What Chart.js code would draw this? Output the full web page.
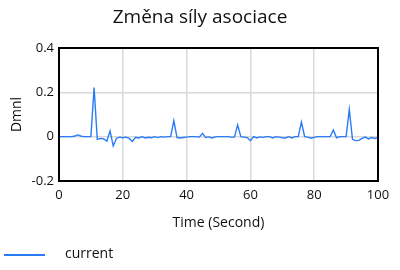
<!DOCTYPE html>
<html lang="cs">
<head>
  <meta charset="UTF-8">
  <title>Změna síly asociace</title>
  <script src="https://cdn.jsdelivr.net/npm/chart.js"></script>
  <style>
    html, body { margin: 0; padding: 0; background: #fff; }
    #wrap { width: 400px; height: 270px; }
  </style>
</head>
<body>
  <div id="wrap"><canvas id="chart" width="400" height="270"></canvas></div>
  <script>
    // data (time step 1 s)
    const times = [];
    for (let t = 0; t <= 100; t++) times.push(t);
    const current = [
      0, 0, 0, 0, 0, 0.003, 0.008, 0.002, 0, 0,
      0, 0.222, -0.012, -0.008, -0.01, -0.02, 0.026, -0.042, -0.008, -0.002,
      -0.005, -0.002, -0.008, -0.022, -0.003, -0.006, 0, -0.006, -0.003, -0.005,
      0, -0.004, 0, -0.002, 0, 0, 0.072, -0.004, -0.006, -0.004,
      -0.002, 0, 0, 0, -0.002, 0.015, -0.004, -0.001, -0.006, -0.001,
      0, 0, 0, 0, -0.002, -0.002, 0.053, 0, -0.002, -0.004,
      -0.018, 0, -0.006, -0.001, -0.003, 0, 0, -0.006, 0, -0.002,
      -0.005, -0.006, 0, -0.006, 0, 0, 0.066, 0, -0.002, -0.007,
      -0.003, 0, 0, 0, 0, 0, 0.03, -0.005, 0, 0,
      0, 0.122, -0.012, -0.018, -0.017, -0.008, -0.002, -0.01, -0.004, -0.008,
      -0.004
    ];
    const xTicks = [0, 20, 40, 60, 80, 100];
    const yTicks = [-0.2, 0, 0.2, 0.4];
    const chartTitle = 'Změna síly asociace';

    const FONT = "'Open Sans', 'Noto Sans', sans-serif";
    const lineColor = '#2a7cf6';

    // title centred on the whole canvas, black frame round the plot area
    const frame = {
      id: 'frame',
      afterDatasetsDraw(chart) {
        const a = chart.chartArea, c = chart.ctx;
        c.save();
        c.strokeStyle = '#000';
        c.lineWidth = 2;
        c.strokeRect(a.left, a.top, a.right - a.left, a.bottom - a.top);
        c.fillStyle = '#111';
        c.font = '19px ' + FONT;
        c.textAlign = 'center';
        c.textBaseline = 'middle';
        c.fillText(chartTitle, chart.width / 2, 18);
        c.restore();
      }
    };

    // legend: line sample and label at the bottom left
    const bottomLegend = {
      id: 'bottomLegend',
      afterDraw(chart) {
        const c = chart.ctx, ds = chart.data.datasets[0];
        c.save();
        c.strokeStyle = ds.borderColor;
        c.lineWidth = 2;
        c.beginPath();
        c.moveTo(4, 255);
        c.lineTo(45, 255);
        c.stroke();
        c.fillStyle = '#111';
        c.font = '14px ' + FONT;
        c.textBaseline = 'middle';
        c.fillText(ds.label, 65, 254);
        c.restore();
      }
    };

    new Chart(document.getElementById('chart'), {
      type: 'line',
      data: {
        datasets: [{
          label: 'current',
          data: times.map((t, i) => ({ x: t, y: current[i] })),
          borderColor: lineColor,
          borderWidth: 1.4,
          pointRadius: 0,
          tension: 0,
          fill: false
        }]
      },
      options: {
        responsive: false,
        animation: false,
        layout: { padding: { top: 48, right: 22, bottom: 35, left: 0 } },
        plugins: {
          legend: { display: false },
          tooltip: { enabled: false },
          title: { display: false }
        },
        scales: {
          x: {
            type: 'linear',
            min: 0, max: 100,
            afterBuildTicks: s => { s.ticks = xTicks.map(v => ({ value: v })); },
            afterFit: s => { s.height = 54; },
            grid: { color: '#d9d9d9', lineWidth: 1.5, drawTicks: false },
            border: { display: false },
            ticks: { color: '#111', font: { family: FONT, size: 13 }, padding: 6, maxRotation: 0 },
            title: {
              display: true, text: 'Time (Second)', color: '#111',
              font: { family: FONT, size: 14 }, padding: { top: 11 }
            }
          },
          y: {
            min: -0.2, max: 0.4,
            afterBuildTicks: s => { s.ticks = yTicks.map(v => ({ value: v })); },
            afterFit: s => { s.width = 59; },
            grid: { color: '#d9d9d9', lineWidth: 1.5, drawTicks: false },
            border: { display: false },
            ticks: {
              color: '#111', font: { family: FONT, size: 13 }, padding: 5,
              callback: v => String(Math.round(v * 10) / 10)
            },
            title: {
              display: true, text: 'Dmnl', color: '#111',
              font: { family: FONT, size: 14 }, padding: { top: 9, bottom: 0 }
            }
          }
        }
      },
      plugins: [frame, bottomLegend]
    });
  </script>
</body>
</html>
